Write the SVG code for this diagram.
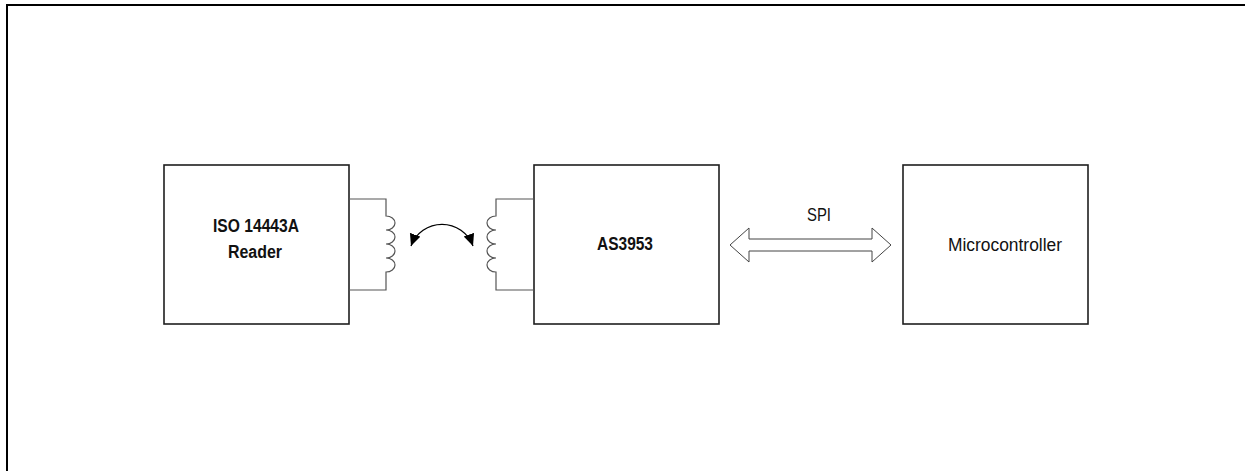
<svg xmlns="http://www.w3.org/2000/svg" width="1245" height="471" viewBox="0 0 1245 471">
<style>
.box{fill:#fff;stroke:#1e1e1e;stroke-width:1.6}
.wire{fill:none;stroke:#555;stroke-width:1.2}
.bold{font-family:"Liberation Sans Narrow","Liberation Sans",Arial,sans-serif;font-weight:bold;font-size:18px;fill:#111;text-anchor:middle}
.reg{font-family:"Liberation Sans",Arial,sans-serif;font-size:18px;fill:#111;text-anchor:middle}
</style>
<defs>
<marker id="ah" markerUnits="userSpaceOnUse" markerWidth="14" markerHeight="12" refX="12" refY="5.5" orient="auto-start-reverse">
<path d="M0,0 L12,5.5 L0,11 z" fill="#000"/>
</marker>
</defs>
<rect width="1245" height="471" fill="#fff"/>
<path d="M7,471 V5 H1245" fill="none" stroke="#000" stroke-width="2"/>
<g id="reader">
<rect class="box" x="164" y="165" width="185" height="159"/>
<text class="bold" x="256" y="232" textLength="86" lengthAdjust="spacingAndGlyphs">ISO 14443A</text>
<text class="bold" x="255" y="257.5" textLength="54" lengthAdjust="spacingAndGlyphs">Reader</text>
</g>
<g id="as3953">
<rect class="box" x="534" y="165" width="185" height="159"/>
<text class="bold" x="625" y="250" textLength="56" lengthAdjust="spacingAndGlyphs">AS3953</text>
</g>
<g id="microcontroller">
<rect class="box" x="903" y="165" width="185" height="159"/>
<text class="reg" x="1005" y="250.5" textLength="114" lengthAdjust="spacingAndGlyphs">Microcontroller</text>
</g>
<g id="connectors">
<path id="coil-reader" class="wire" d="M349,199 H386 V216 a9 7 0 0 1 0 14 a9 7 0 0 1 0 14 a9 7 0 0 1 0 14 a9 7 0 0 1 0 14 V290 H349"/>
<path id="coil-tag" class="wire" d="M534,199 H496 V216 a9 7 0 0 0 0 14 a9 7 0 0 0 0 14 a9 7 0 0 0 0 14 a9 7 0 0 0 0 14 V290 H534"/>
<path id="coupling" d="M411,246 A33 33 0 0 1 473,246" fill="none" stroke="#000" stroke-width="1.3" marker-start="url(#ah)" marker-end="url(#ah)"/>
<path id="spi" d="M730,245 L749,228 L749,239 L872,239 L872,228 L891,245 L872,262 L872,251 L749,251 L749,262 Z" fill="#fff" stroke="#444" stroke-width="1"/>
<text class="reg" x="819" y="221" font-size="15" textLength="24" lengthAdjust="spacingAndGlyphs">SPI</text>
</g>
</svg>
